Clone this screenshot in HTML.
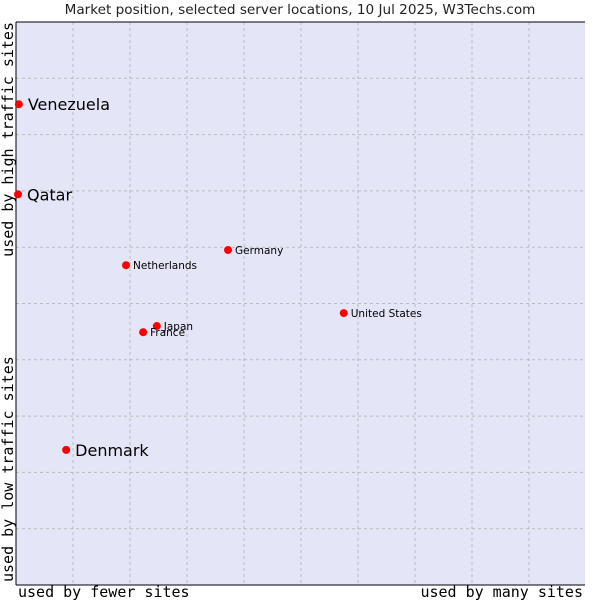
<!DOCTYPE html>
<html><head><meta charset="utf-8"><style>
body{margin:0;background:#fff}
svg{display:block}
</style></head><body>
<svg id="chart" width="600" height="600" xmlns="http://www.w3.org/2000/svg">
<text x="300" y="14" text-anchor="middle" font-family="DejaVu Sans, sans-serif" font-size="13.6" fill="#222">Market position, selected server locations, 10 Jul 2025, W3Techs.com</text>
<rect x="16" y="22" width="569" height="563" fill="#e4e6f8"/>
<g id="grid"></g>
<line x1="16" y1="22" x2="585" y2="22" stroke="#000"/>
<line x1="16" y1="22" x2="16" y2="585" stroke="#000"/>
<line x1="16" y1="585" x2="585" y2="585" stroke="#000"/>
<text x="18" y="597" font-family="DejaVu Sans Mono, monospace" font-size="15" fill="#000">used by fewer sites</text>
<text x="583" y="597" text-anchor="end" font-family="DejaVu Sans Mono, monospace" font-size="15" fill="#000">used by many sites</text>
<text transform="translate(13,22) rotate(-90)" text-anchor="end" font-family="DejaVu Sans Mono, monospace" font-size="15" fill="#000">used by high traffic sites</text>
<text transform="translate(13,582) rotate(-90)" font-family="DejaVu Sans Mono, monospace" font-size="15" fill="#000">used by low traffic sites</text>
<g id="points"></g>
</svg>
<script>
const names = ["Venezuela","Qatar","Netherlands","Germany","United States","Japan","France","Denmark"];
const xVals = [0.5,0.35,19.3,37.2,57.5,24.7,22.3,8.8];
const yVals = [85.4,69.4,56.8,59.5,48.3,46.0,44.9,24.0];
const big = [true,true,false,false,false,false,false,true];
const NS="http://www.w3.org/2000/svg";
const X0=16,X1=586,Y0=585,Y1=22;
function sx(v){return X0+v/100*(X1-X0);}
function sy(v){return Y0-v/100*(Y0-Y1);}
const grid=document.getElementById('grid');
for(let i=1;i<10;i++){
  const gx=X0+i*57;
  let l=document.createElementNS(NS,'line');
  
  
  l.setAttribute('x1',gx);l.setAttribute('x2',gx);l.setAttribute('y1',Y1);l.setAttribute('y2',Y0);
  l.setAttribute('stroke','#bbb');l.setAttribute('stroke-dasharray','3,3');
  grid.appendChild(l);
  const gy=Y1+i*(Y0-Y1)/10;
  let h=document.createElementNS(NS,'line');
  
  
  h.setAttribute('x1',X0);h.setAttribute('x2',585);h.setAttribute('y1',gy);h.setAttribute('y2',gy);
  h.setAttribute('stroke','#bbb');h.setAttribute('stroke-dasharray','3,3');
  grid.appendChild(h);
}
const pts=document.getElementById('points');
names.forEach((n,i)=>{
  const px=sx(xVals[i]),py=sy(yVals[i]);
  const d=document.createElementNS(NS,'circle');
  
  
  d.setAttribute('cx',px);d.setAttribute('cy',py);d.setAttribute('r',4);
  d.setAttribute('fill','#f00');
  pts.appendChild(d);
  const t=document.createElementNS(NS,'text');
  
  
  t.setAttribute('x',px+(big[i]?9:7));
  t.setAttribute('y',py+(big[i]?6:4));
  t.setAttribute('font-family','DejaVu Sans, sans-serif');
  t.setAttribute('font-size',big[i]?16:10.5);
  t.setAttribute('fill','#000');
  t.textContent=n;
  pts.appendChild(t);
});
</script>
</body></html>
